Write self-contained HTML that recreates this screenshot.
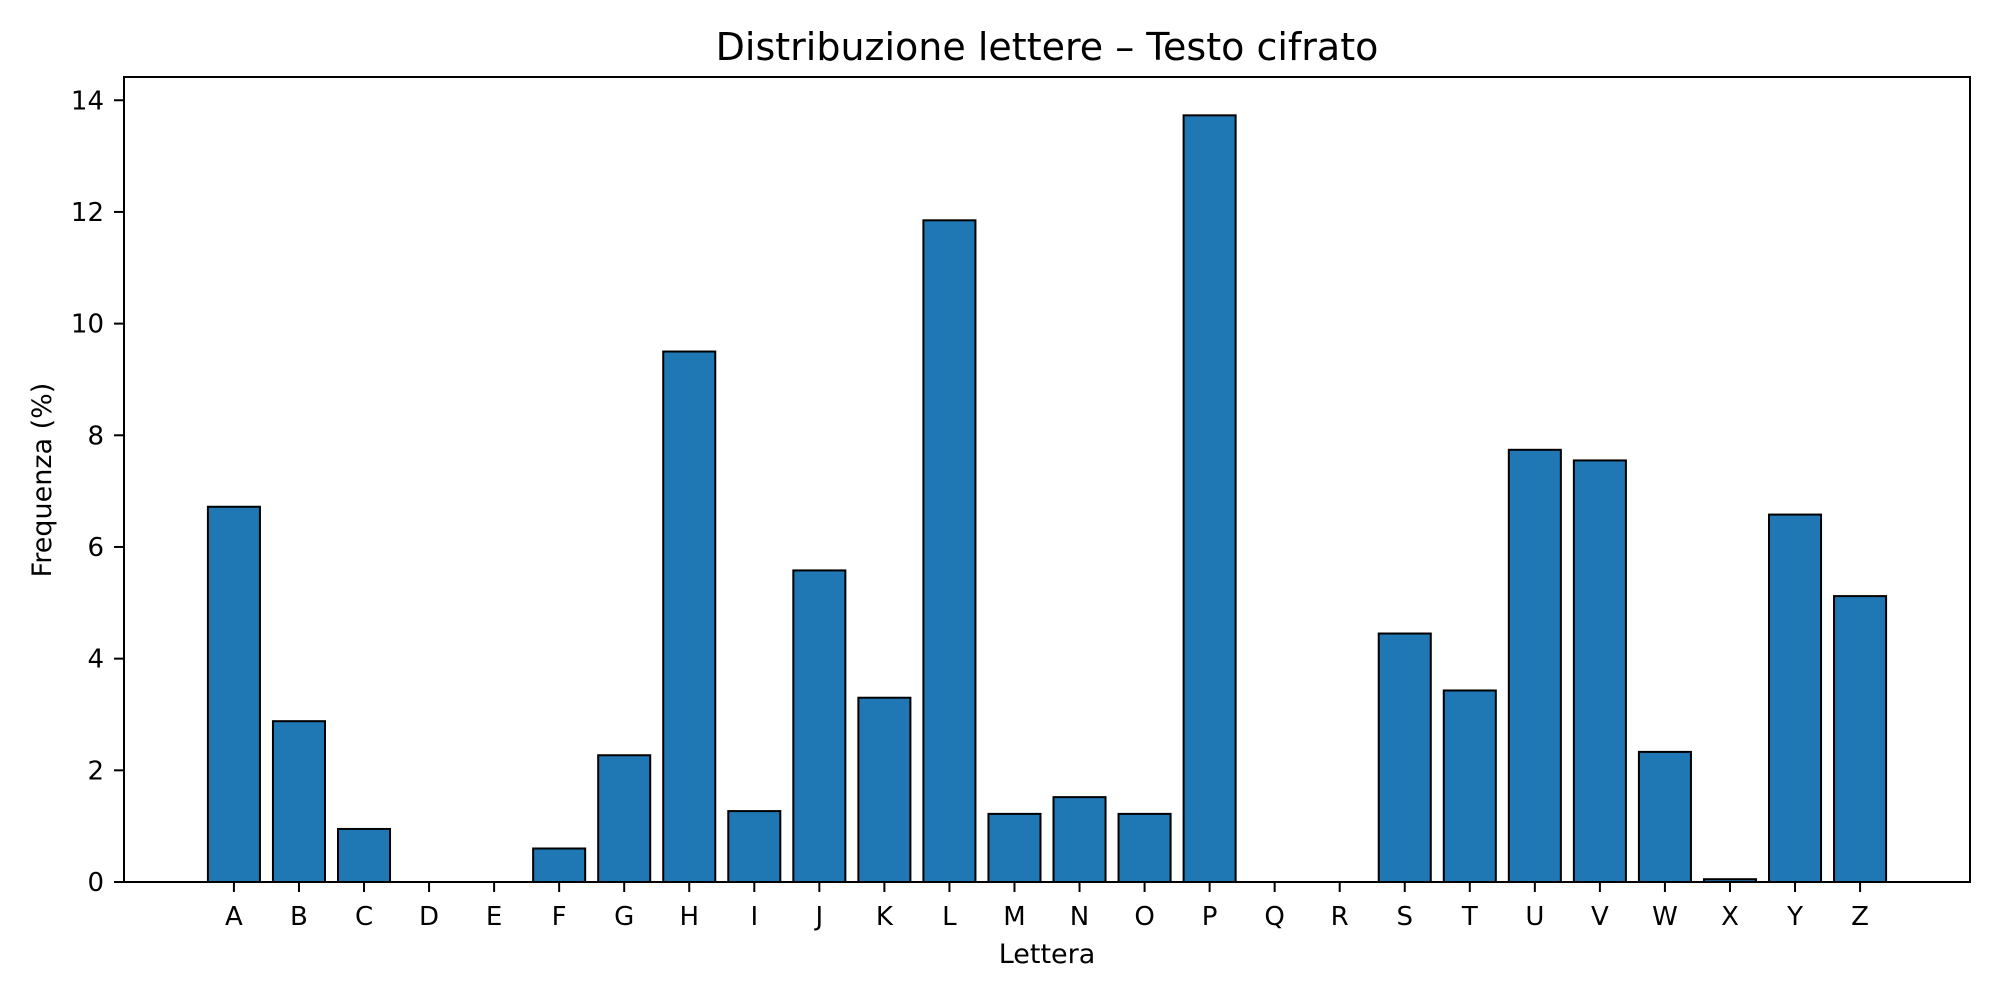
<!DOCTYPE html>
<html><head><meta charset="utf-8"><style>
body{margin:0;background:#fff}
svg text{font-family:"DejaVu Sans","Liberation Sans",sans-serif;fill:#000}
</style></head><body>
<svg id="chart" width="2000" height="1000" xmlns="http://www.w3.org/2000/svg">
<rect width="2000" height="1000" fill="#fff"/>
<text x="1047" y="60" font-size="38" text-anchor="middle">Distribuzione lettere – Testo cifrato</text>
<text x="1047" y="963" font-size="27" text-anchor="middle">Lettera</text>
<text transform="translate(51,480) rotate(-90)" font-size="27" text-anchor="middle">Frequenza (%)</text>
<g id="bars"></g><g id="axes"></g>
</svg>
<script>
const categories = ["A","B","C","D","E","F","G","H","I","J","K","L","M","N","O","P","Q","R","S","T","U","V","W","X","Y","Z"];
const values = [6.72,2.88,0.95,0,0,0.6,2.27,9.5,1.27,5.58,3.3,11.85,1.22,1.52,1.22,13.73,0,0,4.45,3.43,7.74,7.55,2.33,0.05,6.58,5.12];
const yTicks = [0,2,4,6,8,10,12,14];
const L=124,R=1970,T=77,B=882;
const n=categories.length;
const xmin=-0.4-(n-0.2)*0.05, xmax=n-1+0.4+(n-0.2)*0.05;
const ymax=Math.max(...values)*1.05;
const xs=v=>L+(v-xmin)/(xmax-xmin)*(R-L);
const ys=v=>B-v/ymax*(B-T);
const NS="http://www.w3.org/2000/svg";
const bars=document.getElementById('bars'), axes=document.getElementById('axes');
function mk(tag,attrs,parent){const e=document.createElementNS(NS,tag);for(const k in attrs)e.setAttribute(k,attrs[k]);parent.appendChild(e);return e;}
values.forEach((v,i)=>{
  const r=mk('rect',{x:xs(i-0.4),y:ys(v),width:xs(i+0.4)-xs(i-0.4),height:B-ys(v),fill:'#1f77b4',stroke:'#000','stroke-width':2},bars);
  
  
});
const frame=mk('rect',{x:L,y:T,width:R-L,height:B-T,fill:'none',stroke:'#000','stroke-width':2},axes);


categories.forEach((c,i)=>{
  const x=xs(i);
  mk('line',{x1:x,x2:x,y1:B,y2:B+10,stroke:'#000','stroke-width':2},axes);
  const t=mk('text',{x:x,y:B+43,'font-size':26,'text-anchor':'middle'},axes);
  t.textContent=c;
  
  
});
yTicks.forEach(v=>{
  const y=ys(v);
  mk('line',{x1:L-10,x2:L,y1:y,y2:y,stroke:'#000','stroke-width':2},axes);
  const t=mk('text',{x:L-20,y:y+9,'font-size':26,'text-anchor':'end'},axes);
  t.textContent=v;
  
  
});
</script>
</body></html>
